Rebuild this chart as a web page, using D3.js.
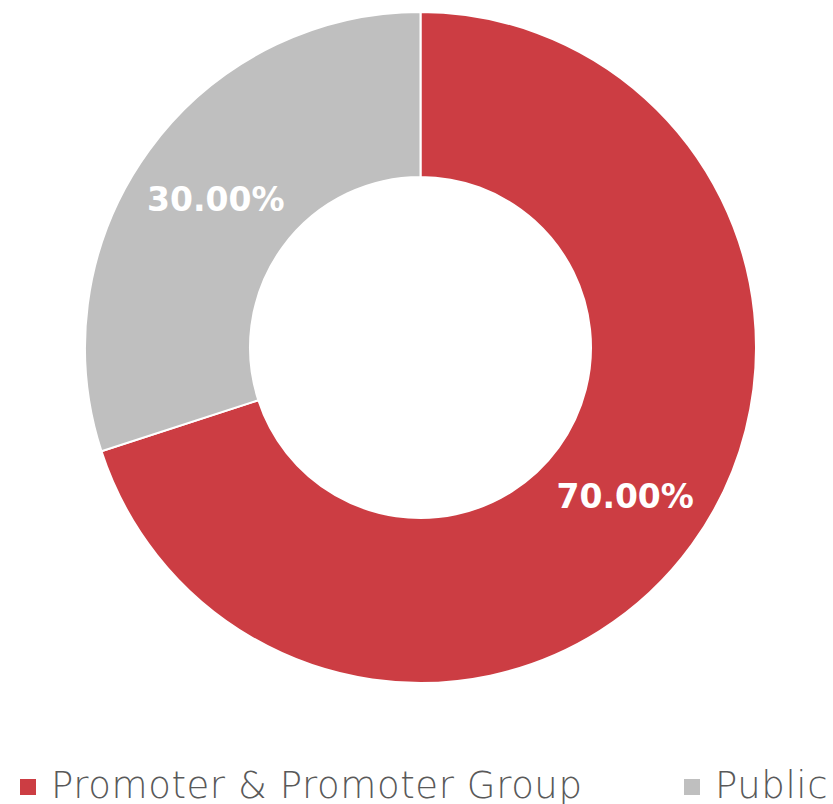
<!DOCTYPE html>
<html>
<head>
<meta charset="utf-8">
<script src="https://cdn.jsdelivr.net/npm/d3@7"></script>
<style>
    html, body { margin: 0; padding: 0; background: #fff; }
    svg { display: block; }
</style>
</head>
<body>
<div id="chart"></div>
<script>
// ============================================================================
// SHAREHOLDING DONUT
// ============================================================================

const categories = ['Promoter & Promoter Group', 'Public'];
const shares = [70.0, 30.0];
const colors = ['#CC3D43', '#BFBFBF'];

const width = 833;
const height = 804;
const cx = 420.5;
const cy = 347.5;
const outerR = 335.5;
const innerR = 170.5;

const svg = d3.select('#chart').append('svg')
    .attr('width', width)
    .attr('height', height);

const data = categories.map((c, i) => ({ name: c, value: shares[i], color: colors[i] }));

const pie = d3.pie()
    .sort(null)
    .value(d => d.value);

const arc = d3.arc()
    .innerRadius(innerR)
    .outerRadius(outerR);

const g = svg.append('g')
    .attr('transform', `translate(${cx},${cy})`);

const arcs = pie(data);

// Slices
g.selectAll('path.slice')
    .data(arcs)
    .join('path')
    .attr('class', 'slice')
    .attr('d', arc)
    .attr('fill', d => d.data.color)
    .attr('stroke', '#fff')
    .attr('stroke-width', 2);

// Percentage labels at arc centroids
g.selectAll('text.pct')
    .data(arcs)
    .join('text')
    .attr('class', 'pct')
    .attr('x', d => arc.centroid(d)[0])
    .attr('y', d => arc.centroid(d)[1])
    .attr('dy', '0.36em')
    .attr('text-anchor', 'middle')
    .attr('fill', '#fff')
    .attr('font-family', '"DejaVu Sans", sans-serif')
    .attr('font-weight', 'bold')
    .attr('font-size', 33)
    .text(d => d3.format('.2f')(d.data.value) + '%');

// Legend
const legendX = [20, 684];
const legend = svg.append('g').attr('class', 'legend');

const items = legend.selectAll('g')
    .data(data)
    .join('g')
    .attr('transform', (d, i) => `translate(${legendX[i]},779)`);

items.append('rect')
    .attr('width', 16)
    .attr('height', 16)
    .attr('fill', d => d.color);

items.append('text')
    .attr('x', 31)
    .attr('y', 19)
    .attr('fill', '#595959')
    .attr('font-family', '"DejaVu Sans", sans-serif')
    .attr('font-weight', 300)
    .attr('font-size', 37)
    .attr('letter-spacing', 0.6)
    .text(d => d.name);
</script>
</body>
</html>
